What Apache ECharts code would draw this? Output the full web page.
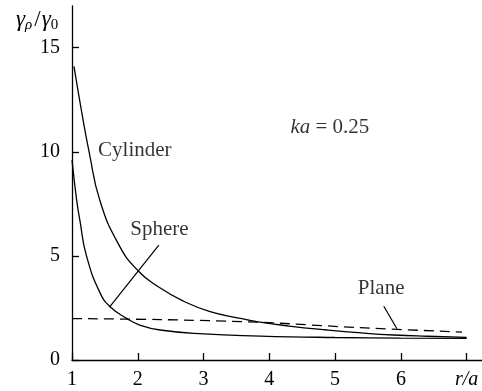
<!DOCTYPE html>
<html>
<head>
<meta charset="utf-8">
<script src="https://cdn.jsdelivr.net/npm/echarts@6/dist/echarts.min.js"></script>
<style>
  html, body { margin: 0; padding: 0; background: #fff; }
  #chart { width: 482px; height: 391px; }
</style>
</head>
<body>
<div id="chart"></div>
<script>
// values (r/a, gamma ratio)
var cylinderR = [1.03, 1.17, 1.26, 1.42, 1.7, 2.0, 2.33, 2.7, 3.1, 3.56, 3.81, 4.3, 4.88, 5.4, 5.89, 6.4, 7];
var cylinderY = [14.1, 11.5, 10.0, 7.7, 5.6, 4.3, 3.48, 2.82, 2.32, 2.0, 1.84, 1.63, 1.44, 1.3, 1.2, 1.14, 1.09];
var sphereR = [1.0, 1.07, 1.12, 1.22, 1.43, 1.58, 1.83, 2.03, 2.34, 3.0, 3.86, 5, 6, 7];
var sphereY = [9.6, 7.7, 6.7, 5.0, 3.2, 2.56, 2.0, 1.68, 1.44, 1.25, 1.15, 1.08, 1.05, 1.04];
var planeR = [1, 2.34, 3.86, 5.38, 6.93];
var planeY = [1.99, 1.94, 1.81, 1.55, 1.34];
var xTicks = [1, 2, 3, 4, 5, 6, 7];
var yTicks = [0, 5, 10, 15];

// labels and their pointer lines
var labelNames = ['Cylinder', 'Sphere', 'Plane', 'ka'];
var labelR = [1.955, 2.33, 5.70, 4.92];
var labelY = [10.05, 6.27, 3.45, 11.16];
var spherePointer = [[1.57, 2.54], [2.32, 5.52]];
var planePointer = [[5.74, 2.58], [5.94, 1.50]];

var serif = '"Liberation Serif", "DejaVu Serif", serif';

function pairs(xs, ys) {
  return xs.map(function (x, i) { return [x, ys[i]]; });
}

var chart = echarts.init(document.getElementById('chart'));
var option = {
  animation: false,
  textStyle: { fontFamily: serif, color: '#000' },
  grid: { left: 72, right: 0, top: 6, bottom: 31 },
  xAxis: {
    type: 'value',
    min: 1,
    max: 7.233,
    splitLine: { show: false },
    axisLine: { lineStyle: { color: '#000', width: 1.3 } },
    axisTick: { inside: true, length: 7, customValues: xTicks, lineStyle: { color: '#000', width: 1.3 } },
    axisLabel: {
      customValues: xTicks,
      margin: 10,
      fontSize: 20,
      fontFamily: serif,
      color: '#000',
      formatter: function (v) { return v === 7 ? '{it|r/a}' : String(v); },
      rich: { it: { fontStyle: 'italic', fontSize: 20, fontFamily: serif, color: '#000' } }
    }
  },
  yAxis: {
    type: 'value',
    min: 0,
    max: 17,
    splitLine: { show: false },
    axisLine: { lineStyle: { color: '#000', width: 1.3 } },
    axisTick: { inside: true, length: 7, customValues: yTicks, lineStyle: { color: '#000', width: 1.3 } },
    axisLabel: { customValues: yTicks, margin: 12, fontSize: 20, fontFamily: serif, color: '#000' }
  },
  graphic: [{
    type: 'text',
    left: 16,
    top: 8,
    style: {
      text: '{g|γ}{s|ρ}{n|/}{g|γ}{z|0}',
      fill: '#000',
      rich: {
        g: { fontStyle: 'italic', fontSize: 23, fontFamily: serif, color: '#000' },
        s: { fontStyle: 'italic', fontSize: 15, fontFamily: serif, color: '#000', padding: [12, 1, 0, 0] },
        n: { fontSize: 23, fontFamily: serif, color: '#000', padding: [0, 1, 0, 1] },
        z: { fontSize: 15, fontFamily: serif, color: '#000', padding: [12, 0, 0, 0] }
      }
    }
  }],
  series: [
    {
      name: 'Cylinder', type: 'line', smooth: 0.5, symbol: 'none',
      lineStyle: { color: '#000', width: 1.3 },
      data: pairs(cylinderR, cylinderY)
    },
    {
      name: 'Sphere', type: 'line', smooth: 0.5, symbol: 'none',
      lineStyle: { color: '#000', width: 1.3 },
      data: pairs(sphereR, sphereY)
    },
    {
      name: 'Plane', type: 'line', smooth: 0.3, symbol: 'none',
      lineStyle: { color: '#000', width: 1.3, type: [10, 6] },
      data: pairs(planeR, planeY)
    },
    {
      type: 'line', symbol: 'none',
      lineStyle: { color: '#000', width: 1.2 },
      data: spherePointer
    },
    {
      type: 'line', symbol: 'none',
      lineStyle: { color: '#000', width: 1.2 },
      data: planePointer
    },
    {
      type: 'scatter', symbolSize: 0,
      label: {
        show: true,
        position: 'inside',
        fontSize: 21,
        fontFamily: serif,
        color: '#000',
        formatter: function (p) {
          return p.name === 'ka' ? '{it|ka} = 0.25' : p.name;
        },
        rich: { it: { fontStyle: 'italic', fontSize: 21, fontFamily: serif, color: '#000' } }
      },
      data: labelNames.map(function (n, i) { return { name: n, value: [labelR[i], labelY[i]] }; })
    }
  ]
};
chart.setOption(option);
</script>
</body>
</html>
